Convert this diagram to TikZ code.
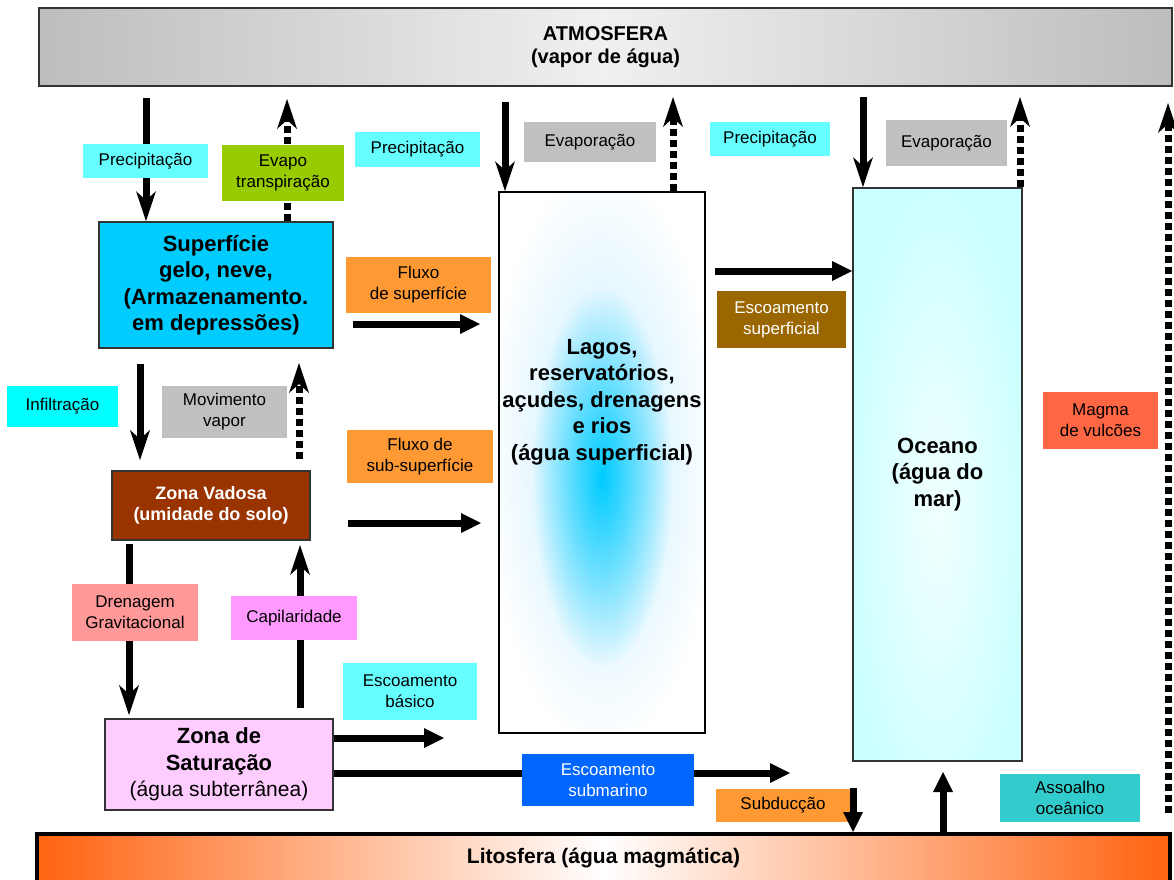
\documentclass[tikz,border=0pt]{standalone}
\usepackage{fontspec}
\setmainfont{Liberation Sans}
\usetikzlibrary{arrows.meta,calc,fadings}

\definecolor{skycyan}{HTML}{66FFFF}
\definecolor{aquacyan}{HTML}{00FFFF}
\definecolor{leafgreen}{HTML}{99CC00}
\definecolor{mistgray}{HTML}{C0C0C0}
\definecolor{tangorange}{HTML}{FF9933}
\definecolor{mudbrown}{HTML}{996600}
\definecolor{lavared}{HTML}{FF6644}
\definecolor{rosepink}{HTML}{FF9999}
\definecolor{orchidpink}{HTML}{FF99FF}
\definecolor{deepblue}{HTML}{0066FF}
\definecolor{tealsea}{HTML}{33CCCC}
\definecolor{surfblue}{HTML}{00CCFF}
\definecolor{soilbrown}{HTML}{993300}
\definecolor{palepink}{HTML}{FFCCFF}
\definecolor{seawater}{HTML}{CCFFFF}
\definecolor{lakepale}{HTML}{C4EEFF}
\definecolor{cloudgray}{HTML}{BDBDBD}
\definecolor{cloudlight}{HTML}{F0F0F0}
\definecolor{magmaorange}{HTML}{FF6310}

\newcommand\lbltxt{\fontsize{17}{21}\selectfont}
\newcommand\boxtxt{\fontsize{22}{26.5}\selectfont\bfseries}

\tikzfading[name=softglow, inner color=transparent!0, outer color=transparent!100]

\begin{document}
\begin{tikzpicture}[x=1pt, y=-1pt]
	\tikzstyle{box}=[draw=black!80, line width=1.6pt, inner sep=2pt, align=center, font=\boxtxt]
	\tikzstyle{lbl}=[inner sep=2pt, align=center, font=\lbltxt]
	\tikzstyle{longflow}=[line width=7pt, -{Stealth[length=30pt,width=20pt,inset=9pt,line width=0pt]}]
	\tikzstyle{vapor}=[longflow, dash pattern=on 7pt off 4pt]
	\tikzstyle{shortflow}=[line width=7pt, -{Triangle[length=20pt,width=20pt,line width=0pt]}]
	\useasboundingbox (0,0) rectangle (1174,879);

	% reservatorios
	\node[box, left color=cloudgray, right color=cloudgray, middle color=cloudlight, minimum width=1133, minimum height=78, font=\fontsize{20}{23}\selectfont\bfseries] (atm) at (605.5,47) {ATMOSFERA\\(vapor de água)};
	\node[box, draw=black, line width=4pt, left color=magmaorange, right color=magmaorange, middle color=white, minimum width=1133, minimum height=48, font=\fontsize{21}{24}\selectfont\bfseries] (lito) at (603.5,858) {Litosfera (água magmática)};
	\node[box, fill=surfblue, minimum width=234, minimum height=126] (sup) at (216,285) {Superfície\\gelo, neve,\\(Armazenamento.\\em depressões)};
	\node[box, fill=soilbrown, text=white, minimum width=198, minimum height=69, font=\fontsize{18}{21}\selectfont\bfseries] (vad) at (211,505.5) {Zona Vadosa\\(umidade do solo)};
	\node[box, fill=palepink, minimum width=228, minimum height=91] (sat) at (219,764.5) {Zona de\\Saturação\\{\mdseries\fontsize{21}{26}\selectfont (água subterrânea)}};
	\node[box, draw=black, fill=white, minimum width=206, minimum height=541,
		path picture={
			\fill[lakepale, path fading=softglow] ($(path picture bounding box.center)+(0,-5)$) ellipse (115 and 290);
			\fill[surfblue, path fading=softglow] ($(path picture bounding box.center)+(0,15)$) ellipse (70 and 190);
		}] (lagos) at (602,462.5) {};
	\node[align=center, font=\boxtxt, inner sep=0pt] (lagostxt) at (602,402) {Lagos,\\reservatórios,\\açudes, drenagens\\e rios\\(água superficial)};
	\node[box, fill=seawater, minimum width=169, minimum height=573,
		path picture={
			\fill[white, opacity=0.75, path fading=softglow] ($(path picture bounding box.center)+(0,40)$) ellipse (90 and 320);
		}] (ocean) at (937.5,474.5) {Oceano\\(água do\\mar)};

	% fluxos
	\coordinate (pa) at (146,98);
	\coordinate (ea) at (287,99);
	\coordinate (pb) at (505,102);
	\coordinate (eb) at (673,97);
	\coordinate (pc) at (863,97);
	\coordinate (ec) at (1020,97);
	\coordinate (mg0) at (1168,813);
	\coordinate (mg1) at (1168,103);
	\coordinate (fs0) at (353,324);
	\coordinate (fs1) at (480,324);
	\coordinate (es0) at (715,271);
	\coordinate (in0) at (140,364);
	\coordinate (in1) at (140,460);
	\coordinate (mv0) at (299,459);
	\coordinate (mv1) at (299,363);
	\coordinate (fb0) at (348,523);
	\coordinate (fb1) at (481,523);
	\coordinate (dr0) at (129,544);
	\coordinate (dr1) at (129,715);
	\coordinate (cp0) at (300,708);
	\coordinate (cp1) at (300,545);
	\coordinate (eb1) at (444,738);
	\coordinate (sm1) at (790,773);
	\coordinate (sd0) at (853,788);
	\coordinate (as1) at (943,772);

	\draw[longflow] (pa) -- (pa |- sup.north);
	\draw[vapor] (ea |- sup.north) -- (ea);
	\draw[longflow] (pb) -- (pb |- lagos.north);
	\draw[vapor] (eb |- lagos.north) -- (eb);
	\draw[longflow] (pc) -- (pc |- ocean.north);
	\draw[vapor] (ec |- ocean.north) -- (ec);
	\draw[vapor] (mg0) -- (mg1);
	\draw[shortflow] (fs0) -- (fs1);
	\draw[shortflow] (es0) -- (es0 -| ocean.west);
	\draw[longflow] (in0) -- (in1);
	\draw[vapor] (mv0) -- (mv1);
	\draw[shortflow] (fb0) -- (fb1);
	\draw[longflow] (dr0) -- (dr1);
	\draw[longflow] (cp0) -- (cp1);
	\draw[shortflow] (eb1 -| sat.east) -- (eb1);
	\draw[shortflow] (sm1 -| sat.east) -- (sm1);
	\draw[shortflow] (as1 |- lito.north) -- (as1);

	% rotulos
	\node[lbl, fill=skycyan, minimum width=125, minimum height=34] (precA) at (145.5,161) {Precipitação};
	\node[lbl, fill=leafgreen, minimum width=122, minimum height=56] (evtr) at (283,173) {Evapo\\transpiração};
	\node[lbl, fill=skycyan, minimum width=125, minimum height=35] (precB) at (417.5,149.5) {Precipitação};
	\node[lbl, fill=mistgray, minimum width=132, minimum height=40] (evapB) at (590,142) {Evaporação};
	\node[lbl, fill=skycyan, minimum width=120, minimum height=34] (precC) at (770,139) {Precipitação};
	\node[lbl, fill=mistgray, minimum width=121, minimum height=46] (evapC) at (946.5,143) {Evaporação};
	\node[lbl, fill=tangorange, minimum width=145, minimum height=56] (fluxsup) at (418.5,285) {Fluxo\\de superfície};
	\node[lbl, fill=mudbrown, text=white, minimum width=129, minimum height=57] (escsup) at (781.5,319.5) {Escoamento\\superficial};
	\node[lbl, fill=aquacyan, minimum width=111, minimum height=41] (infil) at (62.5,406.5) {Infiltração};
	\node[lbl, fill=mistgray, minimum width=125, minimum height=52] (movvap) at (224.5,412) {Movimento\\vapor};
	\node[lbl, fill=tangorange, minimum width=146, minimum height=53] (fluxsub) at (420,456.5) {Fluxo de\\sub-superfície};
	\node[lbl, fill=lavared, minimum width=115, minimum height=57] (magma) at (1100.5,420.5) {Magma\\de vulcões};
	\node[lbl, fill=rosepink, minimum width=126, minimum height=57] (dren) at (135,612.5) {Drenagem\\Gravitacional};
	\node[lbl, fill=orchidpink, minimum width=126, minimum height=44] (capil) at (294,618) {Capilaridade};
	\node[lbl, fill=skycyan, minimum width=134, minimum height=57] (escbas) at (410,691.5) {Escoamento\\básico};
	\node[lbl, fill=deepblue, text=white, minimum width=172, minimum height=52] (escsub) at (608,780) {Escoamento\\submarino};
	\node[lbl, fill=tangorange, minimum width=134, minimum height=33] (subd) at (783,805.5) {Subducção};
	\node[lbl, fill=tealsea, minimum width=140, minimum height=48] (assoalho) at (1070,798) {Assoalho\\oceânico};
	\draw[shortflow] (sd0) -- (sd0 |- lito.north);
\end{tikzpicture}
\end{document}
